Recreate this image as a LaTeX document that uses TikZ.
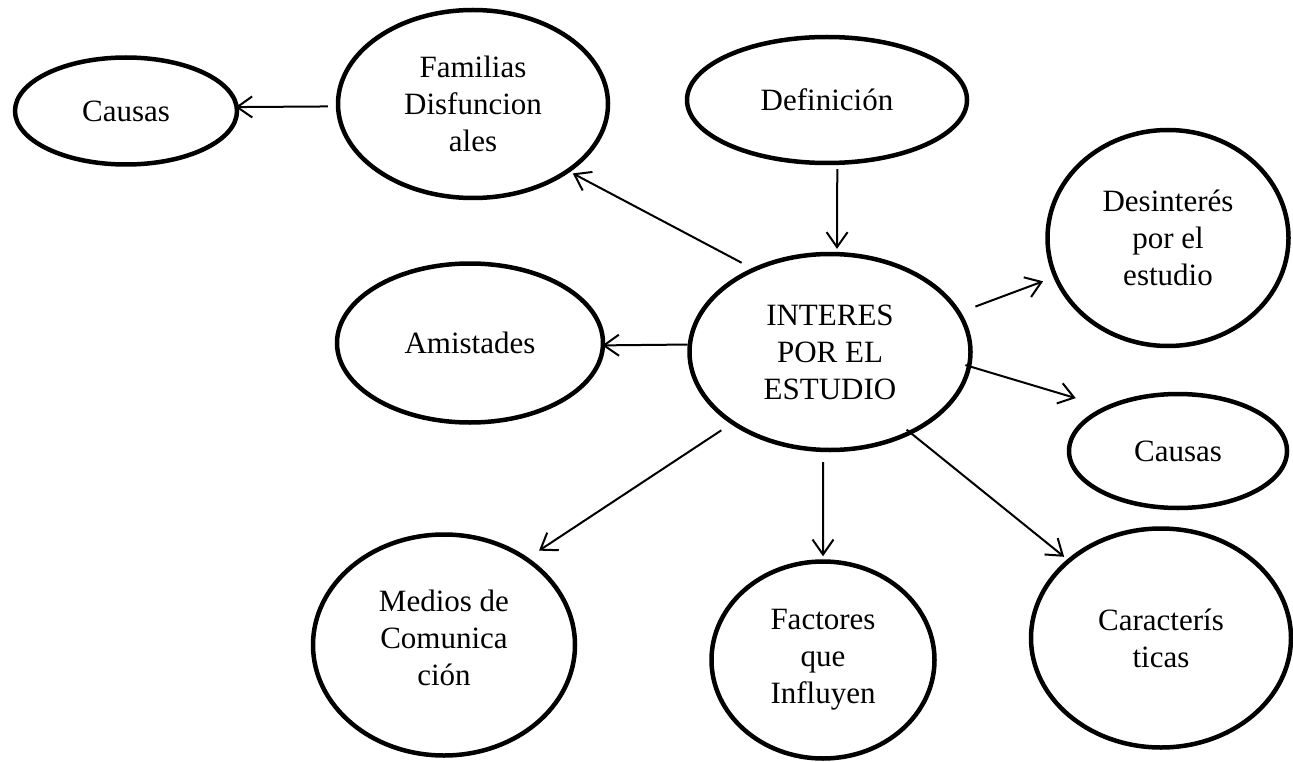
\documentclass[tikz,border=0pt]{standalone}
\usepackage{fontspec}
\setmainfont{Liberation Serif}
\usetikzlibrary{shapes.geometric,arrows.meta}
\tikzset{
  oval/.style={ellipse, draw, line width=4.5pt, inner sep=0pt, align=center,
    font=\fontsize{31}{37}\selectfont},
  arr/.style={line width=2pt, -{Straight Barb[length=15pt,width=21pt]}}
}
\begin{document}
\begin{tikzpicture}[x=1pt,y=-1pt]
\useasboundingbox (0,0) rectangle (1293,762);
\node[oval, minimum width=222pt, minimum height=107pt] (causasL) at (126,111) {Causas};
\node[oval, minimum width=270pt, minimum height=188pt] (fam) at (473,104) {Familias\\Disfuncion\\ales};
\node[oval, minimum width=280pt, minimum height=126pt] (def) at (827,100) {Definición};
\node[oval, minimum width=241pt, minimum height=216pt] (desint) at (1168,238) {Desinterés\\por el\\estudio};
\node[oval, minimum width=266pt, minimum height=159pt] (amist) at (470,343) {Amistades};
\node[oval, minimum width=281pt, minimum height=196pt] (inter) at (830,352) {INTERES\\POR EL\\ESTUDIO};
\node[oval, minimum width=218pt, minimum height=114pt] (causasR) at (1178,451) {Causas};
\node[oval, minimum width=262pt, minimum height=221pt] (medios) at (444,645) {Medios de\\Comunica\\ción\rule[-14pt]{0pt}{14pt}};
\node[oval, minimum width=223pt, minimum height=197pt] (factores) at (823,660) {Factores\\que\\Influyen};
\node[oval, minimum width=260pt, minimum height=219pt] (caract) at (1161,638) {Caracterís\\ticas};

\draw[arr, shorten <=8pt, shorten >=-3.5pt] (fam.-179.15) -- (causasL.2.6);
\draw[arr, shorten <=11.5pt, shorten >=3pt] (inter.133.7) -- (fam.-35.4);
\draw[arr, shorten <=4pt, shorten >=3pt] (def.-81.9) -- (inter.86.6);
\draw[arr, shorten <=0pt, shorten >=-3pt] (inter.177.6) -- (amist.-1.3);
\draw[arr, shorten <=15.5pt, shorten >=11pt] (inter.17.1) -- (desint.-161.3);
\draw[arr, shorten <=-6pt, shorten >=29.7pt] (inter.-6.46) -- (causasR.149.6);
\draw[arr, shorten <=11.3pt, shorten >=12.8pt] (inter.-144.7) -- (medios.46.2);
\draw[arr, shorten <=10pt, shorten >=3pt] (inter.-94.1) -- (factores.90);
\draw[arr, shorten <=-7pt, shorten >=3.9pt] (inter.-45) -- (caract.140.6);
\end{tikzpicture}
\end{document}
